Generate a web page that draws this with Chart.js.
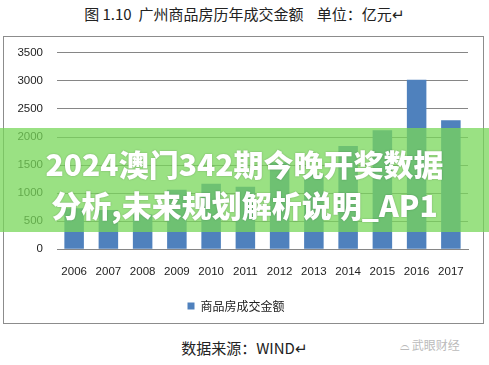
<!DOCTYPE html>
<html><head><meta charset="utf-8">
<script src="https://cdn.jsdelivr.net/npm/chart.js@4.4.0/dist/chart.umd.min.js"></script>
<style>
html,body{margin:0;padding:0;background:#fff;width:489px;height:365px;overflow:hidden;font-family:"Noto Sans CJK SC","Liberation Sans",sans-serif;}
#title{position:absolute;left:0;width:489px;top:3px;text-align:center;font-size:15px;color:#222;white-space:pre;}
#box{position:absolute;left:3px;top:36px;width:479px;height:286px;border:1px solid #8c8c8c;}
#wrap{position:absolute;left:4px;top:32px;width:478px;height:290px;}
#src{position:absolute;left:0;width:489px;top:337px;text-align:center;font-size:15px;color:#222;}
#wm{position:absolute;left:400px;top:336px;font-size:12px;color:#bbb;}
#banner{position:absolute;left:0;top:128px;width:489px;height:104px;background:rgba(120,215,90,0.75);}
#banner div{position:absolute;left:0;width:489px;text-align:center;color:#fff;font-weight:900;font-size:30px;font-family:"Noto Sans CJK SC",sans-serif;text-shadow:0 0 2px rgba(0,0,0,0.25);white-space:nowrap;line-height:1;}
</style></head><body>
<div id="title">图 1.10  广州商品房历年成交金额    单位：亿元↵</div>
<div id="box"></div>
<div id="wrap"><canvas id="c" width="478" height="290"></canvas></div>
<div id="src">数据来源：WIND↵</div>
<div id="wm">⌓ 武眼财经</div>
<div id="banner"><div style="top:20px">2024澳门342期今晚开奖数据</div><div style="top:61px">分析,未来规划解析说明_AP1</div></div>
<script>
const categories = ["2006","2007","2008","2009","2010","2011","2012","2013","2014","2015","2016","2017"];
const seriesName = "商品房成交金额";
const values = [730, 700, 620, 1060, 1166, 1113, 1550, 1330, 1840, 2120, 3020, 2300];
const yTicks = [0, 500, 1000, 1500, 2000, 2500, 3000, 3500];

new Chart(document.getElementById('c'), {
  type: 'bar',
  data: { labels: categories, datasets: [{ label: seriesName, data: values, backgroundColor: '#4f81bd', borderWidth: 0, barPercentage: 0.57, categoryPercentage: 1 }] },
  options: {
    responsive: false, animation: false,
    layout: { padding: { top: 2, right: 14, left: 0, bottom: 0 } },
    plugins: {
      legend: { position: 'bottom', labels: { boxWidth: 7, boxHeight: 7, padding: 13, color: '#222', font: { size: 12, family: '"Noto Sans CJK SC", sans-serif' } } },
      tooltip: { enabled: false }
    },
    scales: {
      x: { grid: { display: false }, border: { display: true, color: '#868686' },
           ticks: { color: '#222', padding: 8, font: { size: 11.5, family: '"Liberation Sans", sans-serif' } } },
      y: { min: 0, max: 3500, afterFit: (s) => { s.width = 53; },
           afterBuildTicks: (s) => { s.ticks = yTicks.map(v => ({ value: v })); },
           grid: { color: '#868686', drawTicks: false }, border: { display: false },
           ticks: { color: '#222', padding: 14, callback: (v) => String(v), font: { size: 11.5, family: '"Liberation Sans", sans-serif' } } }
    }
  }
});
</script>
</body></html>
